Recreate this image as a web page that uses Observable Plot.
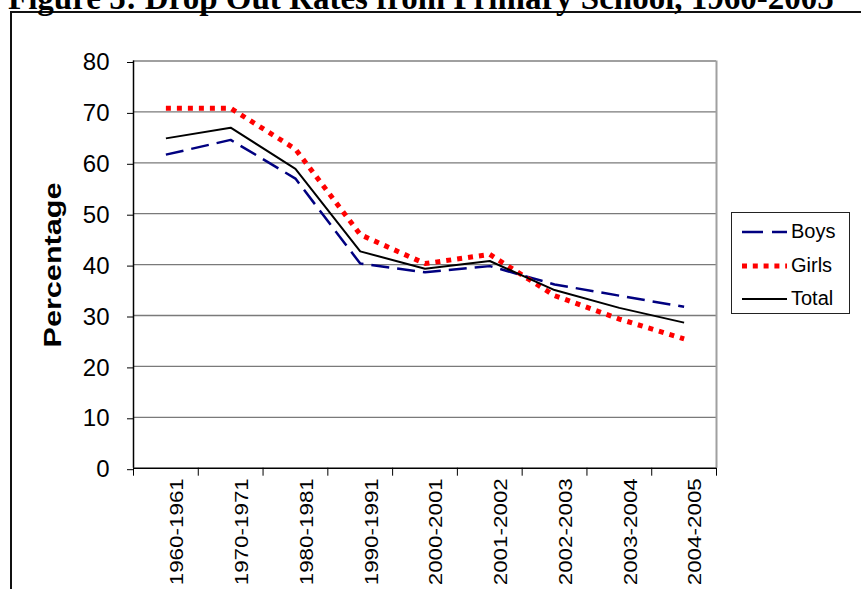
<!DOCTYPE html>
<html><head><meta charset="utf-8">
<script src="https://cdn.jsdelivr.net/npm/d3@7"></script>
<script src="https://cdn.jsdelivr.net/npm/@observablehq/plot@0.6"></script>
<style>
html,body{margin:0;padding:0;background:#fff;width:861px;height:589px;overflow:hidden;}
#wrap{position:relative;width:861px;height:589px;overflow:hidden;}
#frame{position:absolute;left:10px;top:11px;width:1000px;height:800px;border:2px solid #111;box-sizing:border-box;}
#title{position:absolute;left:8px;top:-18px;font:bold 33px "Liberation Serif","Times New Roman",serif;white-space:nowrap;line-height:33px;color:#000;}
#chart{position:absolute;left:0;top:0;}
#ylab{position:absolute;left:53px;top:265px;font:bold 23px "Liberation Sans",Arial,sans-serif;line-height:1;white-space:nowrap;transform:translate(-50%,-50%) rotate(-90deg) scaleX(1.33);}
#legend{position:absolute;left:731px;top:212px;width:119px;height:102px;border:1.5px solid #222;box-sizing:border-box;background:#fff;}
.lrow{position:absolute;left:0;height:24px;}
.lrow svg{position:absolute;left:10px;top:0;}
.lrow span{position:absolute;left:59px;top:0;font:20px "Liberation Sans",Arial,sans-serif;line-height:24px;white-space:nowrap;}
</style></head>
<body>
<div id="wrap">
  <div id="frame"></div>
  <div id="title">Figure 5: Drop Out Rates from Primary School, 1960-2005</div>
  <div id="chart"></div>
  <div id="ylab">Percentage</div>
  <div id="legend"></div>
</div>
<script>
const periods = ["1960-1961","1970-1971","1980-1981","1990-1991","2000-2001","2001-2002","2002-2003","2003-2004","2004-2005"];
const boys  = [61.6, 64.5, 56.9, 40.2, 38.5, 39.7, 36.1, 33.9, 31.7];
const girls = [70.7, 70.7, 62.7, 45.9, 40.2, 42.0, 33.9, 29.3, 25.4];
const total = [64.8, 66.9, 58.8, 42.6, 39.2, 40.7, 35.0, 31.5, 28.6];
const yTicks = [0, 10, 20, 30, 40, 50, 60, 70, 80];
const seriesNames = ["Boys", "Girls", "Total"];
const seriesValues = [boys, girls, total];
const seriesStroke = ["#000080", "#ff0000", "#000000"];
const seriesWidth = [2.5, 5, 2];
const seriesDash = ["18,8", "5,6", null];

const rows = [];
seriesNames.forEach((s, k) => seriesValues[k].forEach((v, i) => rows.push({series: s, i, period: periods[i], value: v})));

const lineMarks = seriesNames.map((s, k) => Plot.line(rows.filter(r => r.series === s), {
  x: "i", y: "value",
  stroke: seriesStroke[k], strokeWidth: seriesWidth[k],
  strokeDasharray: seriesDash[k] || undefined,
  strokeLinecap: "butt", strokeLinejoin: "miter"
}));

const svg = Plot.plot({
  width: 861, height: 589,
  marginLeft: 133, marginRight: 145, marginTop: 60.5, marginBottom: 121.3,
  style: {background: "none", fontFamily: "'Liberation Sans', Arial, sans-serif", color: "#000"},
  x: {type: "linear", domain: [-0.5, periods.length - 0.5]},
  y: {domain: [0, 80]},
  marks: [
    Plot.ruleY(yTicks.filter(d => d > 0 && d < 80), {stroke: "#7a7a7a", strokeWidth: 1.3}),
    Plot.ruleY([80], {stroke: "#a0a0a0", strokeWidth: 2}),
    Plot.ruleX([periods.length - 0.5], {stroke: "#a0a0a0", strokeWidth: 2}),
    ...lineMarks,
    Plot.ruleX([-0.5], {stroke: "#000", strokeWidth: 1.5}),
    Plot.ruleY([0], {stroke: "#000", strokeWidth: 1.5}),
    Plot.axisY(yTicks, {tickSize: 6, tickPadding: 18, fontSize: 24, label: null, dy: 1.5}),
    Plot.axisX(d3.range(-0.5, periods.length, 1), {tickSize: 8, tickFormat: () => "", label: null}),
    Plot.axisX(d3.range(0, periods.length), {tickSize: 0, tickPadding: 10, tickRotate: -90, fontSize: 18, dx: 11.6, tickFormat: i => periods[i], label: null})
  ]
});
document.getElementById("chart").appendChild(svg);

// stretch rotated category labels along their direction, as in the reference
d3.select(svg).selectAll("text").each(function() {
  const t = d3.select(this);
  const tr = t.attr("transform");
  if (tr && tr.includes("rotate(-90)") && periods.includes(t.text())) {
    t.attr("transform", tr + " scale(1.245,1)");
  }
});

// legend
const legend = document.getElementById("legend");
const rowTops = [6, 39.5, 73];
seriesNames.forEach((s, k) => {
  const row = document.createElement("div");
  row.className = "lrow";
  row.style.top = rowTops[k] + "px";
  row.style.width = "117px";
  const dash = seriesDash[k] ? `stroke-dasharray="${seriesDash[k] === "18,8" ? "21,9" : "5,5.8"}"` : "";
  row.innerHTML = `<svg width="46" height="24"><line x1="0" x2="45" y1="13" y2="13" stroke="${seriesStroke[k]}" stroke-width="${seriesWidth[k]}" ${dash}/></svg><span>${s}</span>`;
  legend.appendChild(row);
});
</script>
</body></html>
